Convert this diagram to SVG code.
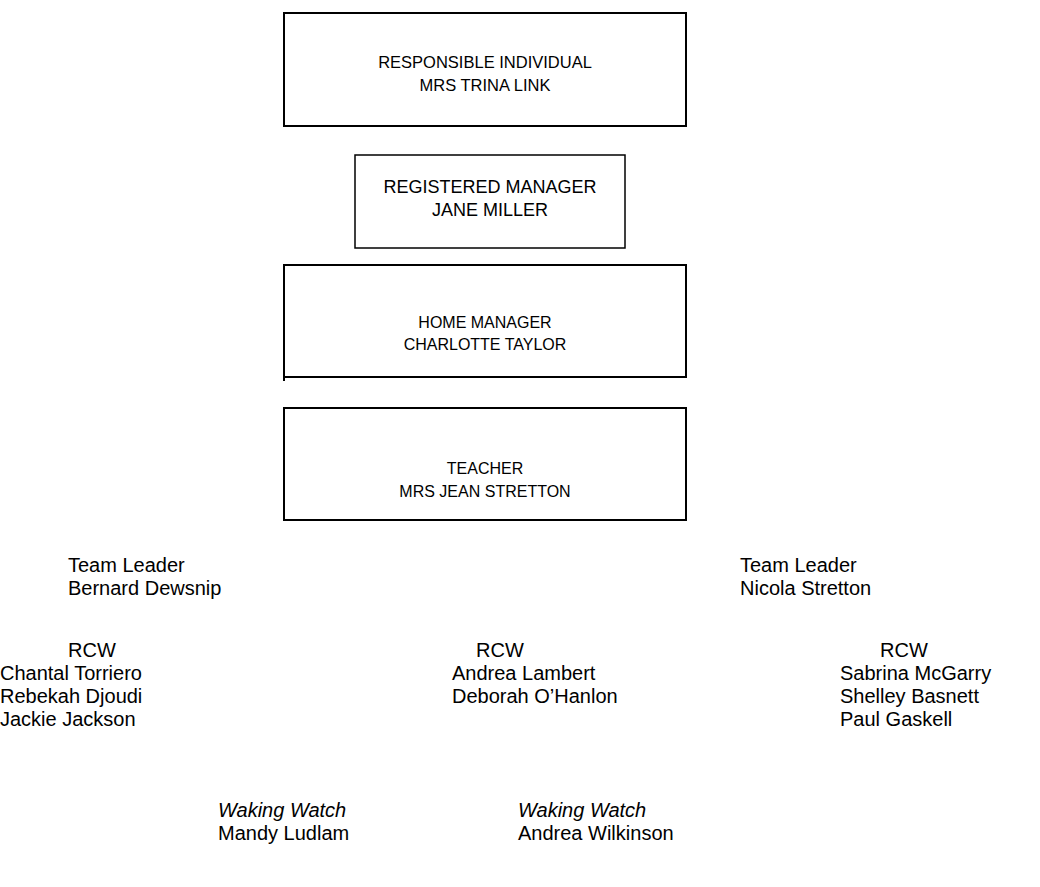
<svg xmlns="http://www.w3.org/2000/svg" width="1040" height="887" viewBox="0 0 1040 887">
<style>
.box{fill:#fff;stroke:#000;stroke-width:2}
.bt{font-family:"Liberation Sans",Arial,sans-serif;font-size:16px;fill:#000;text-anchor:middle}
.bt2{font-family:"Liberation Sans",Arial,sans-serif;font-size:18px;fill:#000;text-anchor:middle}
.t{font-family:"Liberation Sans",Arial,sans-serif;font-size:20px;fill:#000}
.n{font-family:"Liberation Sans Narrow","Liberation Sans",Arial,sans-serif;font-size:20px;fill:#000}
.i{font-style:italic}
</style>
<rect width="1040" height="887" fill="#fff"/>
<g id="connectors"></g>
<g id="responsible">
<rect class="box" x="284" y="13" width="402" height="113"/>
<text class="bt" x="485" y="68" style="font-size:16.5px">RESPONSIBLE INDIVIDUAL</text>
<text class="bt" x="485" y="91" style="font-size:16.5px">MRS TRINA LINK</text>
</g>
<g id="registered">
<rect class="box" x="355" y="155" width="270" height="93" style="stroke-width:1.5"/>
<text class="bt2" x="490" y="193">REGISTERED MANAGER</text>
<text class="bt2" x="490" y="216">JANE MILLER</text>
</g>
<g id="home">
<rect class="box" x="284" y="265" width="402" height="112"/>
<line x1="284" y1="376" x2="284" y2="381" stroke="#000" stroke-width="2"/>
<text class="bt" x="485" y="328">HOME MANAGER</text>
<text class="bt" x="485" y="350">CHARLOTTE TAYLOR</text>
</g>
<g id="teacher">
<rect class="box" x="284" y="408" width="402" height="112"/>
<text class="bt" x="485" y="474">TEACHER</text>
<text class="bt" x="485" y="497">MRS JEAN STRETTON</text>
</g>
<g id="teamleader-left">
<text class="t" x="68" y="572">Team Leader</text>
<text class="t" x="68" y="595">Bernard Dewsnip</text>
</g>
<g id="teamleader-right">
<text class="t" x="740" y="572">Team Leader</text>
<text class="t" x="740" y="595">Nicola Stretton</text>
</g>
<g id="rcw-left">
<text class="t" x="68" y="657">RCW</text>
<text class="t" x="0" y="680">Chantal Torriero</text>
<text class="t" x="0" y="703">Rebekah Djoudi</text>
<text class="t" x="0" y="726">Jackie Jackson</text>
</g>
<g id="rcw-middle">
<text class="t" x="476" y="657">RCW</text>
<text class="t" x="452" y="680">Andrea Lambert</text>
<text class="t" x="452" y="703">Deborah O’Hanlon</text>
</g>
<g id="rcw-right">
<text class="t" x="880" y="657">RCW</text>
<text class="t" x="840" y="680">Sabrina McGarry</text>
<text class="t" x="840" y="703">Shelley Basnett</text>
<text class="t" x="840" y="726">Paul Gaskell</text>
</g>
<g id="waking-left">
<text class="n i" x="218" y="817">Waking Watch</text>
<text class="n" x="218" y="840">Mandy Ludlam</text>
</g>
<g id="waking-right">
<text class="n i" x="518" y="817">Waking Watch</text>
<text class="n" x="518" y="840">Andrea Wilkinson</text>
</g>
</svg>
